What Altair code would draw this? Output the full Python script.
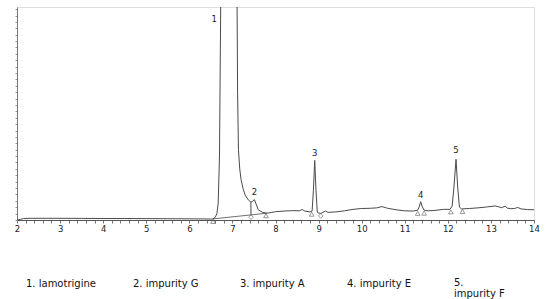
import altair as alt
import pandas as pd

# retention time (min) and detector response (arbitrary units, 0-100 = full scale)
trace_rt = [2.0, 2.08, 2.15, 2.3, 2.6, 3.0, 3.5, 4.0, 4.5, 5.0, 5.5, 6.0, 6.3, 6.5,
            6.55, 6.6, 6.64, 6.67, 6.7, 6.72, 6.74, 6.8, 7.0, 7.1, 7.12, 7.14, 7.17,
            7.2, 7.25, 7.3, 7.37, 7.43, 7.47, 7.51, 7.55, 7.6, 7.7, 7.8, 7.9, 8.0,
            8.2, 8.4, 8.55, 8.62, 8.68, 8.8, 8.85, 8.88, 8.91, 8.94, 8.97, 9.0, 9.05,
            9.1, 9.16, 9.22, 9.4, 9.6, 9.8, 10.0, 10.2, 10.35, 10.47, 10.6, 10.8,
            11.0, 11.2, 11.3, 11.34, 11.37, 11.4, 11.45, 11.55, 11.7, 11.9, 12.05,
            12.1, 12.14, 12.19, 12.23, 12.27, 12.32, 12.5, 12.7, 12.9, 13.1, 13.25,
            13.33, 13.38, 13.45, 13.55, 13.62, 13.7, 13.85, 14.0]
trace_signal = [0.0, 0.3, 0.7, 0.8, 0.8, 0.8, 0.75, 0.7, 0.7, 0.65, 0.6, 0.55, 0.5, 0.45,
                0.5, 1.2, 3.0, 8.0, 30.0, 80.0, 130.0, 250.0, 250.0, 130.0, 60.0, 33.0, 24.0,
                19.0, 14.5, 11.5, 9.4, 8.4, 8.8, 9.6, 7.5, 4.8, 3.6, 3.2, 3.5, 3.9,
                4.2, 4.4, 4.3, 4.9, 4.2, 3.8, 4.2, 14.0, 28.0, 14.0, 3.6, 3.3, 3.1,
                3.6, 4.2, 3.6, 3.8, 4.3, 5.0, 5.4, 5.5, 5.7, 6.3, 5.5, 4.8,
                4.3, 4.2, 4.6, 6.5, 8.6, 6.5, 4.6, 4.3, 4.5, 5.0, 5.0,
                6.5, 15.0, 28.5, 15.0, 6.0, 5.2, 5.4, 5.7, 6.1, 6.6, 5.8,
                6.5, 5.6, 5.3, 5.4, 5.9, 5.2, 4.9, 4.8]

# integration baseline under peaks 1/2 and the drop line between them
base_rt = [6.55, 7.8]
base_signal = [0.5, 3.2]
drop_rt = [7.43]
drop_top = [8.4]
drop_bottom = [2.5]

# integration event marks
event_rt = [6.55, 7.43, 7.78, 8.84, 9.05, 11.3, 11.45, 12.07, 12.34]
event_signal = [0.5, 2.5, 3.2, 3.9, 3.1, 4.3, 4.4, 5.0, 5.2]
event_kind = ["limit", "drop", "limit", "limit", "drop", "limit", "limit", "limit", "limit"]

# peak numbers
peak_label = ["1", "2", "3", "4", "5"]
peak_label_rt = [6.58, 7.51, 8.91, 11.37, 12.19]
peak_label_signal = [94.5, 13.2, 31.5, 11.8, 32.8]

# legend lines
legend_items = ["1. lamotrigine", "2. impurity G", "3. impurity A", "4. impurity E", "5.\nimpurity F"]

FONT = "DejaVu Sans"
INK = "#4a4a4a"

trace = pd.DataFrame({"rt": trace_rt, "signal": trace_signal})
base = pd.DataFrame({"rt": base_rt, "signal": base_signal})
drop = pd.DataFrame({"rt": drop_rt, "signal": drop_top, "bottom": drop_bottom})
events = pd.DataFrame({"rt": event_rt, "signal": event_signal, "kind": event_kind})
labels = pd.DataFrame({"rt": peak_label_rt, "signal": peak_label_signal, "label": peak_label})

xs = alt.Scale(domain=[2, 14], nice=False, zero=False)
ys = alt.Scale(domain=[0, 100], nice=False)

x_ticks = [round(2 + 0.2 * i, 1) for i in range(61)]
y_ticks = [3 * i for i in range(34)]

x_axis = alt.Axis(
    values=x_ticks,
    labelExpr="abs(datum.value - round(datum.value)) < 0.01 ? format(datum.value, 'd') : ''",
    labelFlush=False, labelOverlap=False, labelFont=FONT, labelFontSize=8.5,
    labelColor="#222", labelPadding=1, tickSize=3, tickColor="#777",
    domainColor="#555", grid=False, title=None,
)
y_axis = alt.Axis(values=y_ticks, labels=False, tickSize=2, tickColor="#999",
                  domainColor="#777", grid=False, title=None)

X = alt.X("rt:Q", scale=xs, axis=x_axis)
Y = alt.Y("signal:Q", scale=ys, axis=y_axis)

line = alt.Chart(trace).mark_line(clip=True, color=INK, strokeWidth=1).encode(x=X, y=Y)

baseline = alt.Chart(base).mark_line(color=INK, strokeWidth=0.8).encode(x=X, y=Y)

drops = alt.Chart(drop).mark_rule(color=INK, strokeWidth=1).encode(x=X, y=Y, y2="bottom:Q")

marks = alt.Chart(events).mark_point(filled=False, size=22, strokeWidth=0.8,
                                     color=INK, yOffset=2.5).encode(
    x=X, y=Y,
    shape=alt.Shape("kind:N", scale=alt.Scale(domain=["limit", "drop"],
                                               range=["triangle-up", "diamond"]), legend=None),
)

peak_text = alt.Chart(labels).mark_text(font=FONT, fontSize=8.5, color="#222").encode(
    x=X, y=Y, text="label:N"
)

layers = [line, baseline, drops, marks, peak_text]
for i, item in enumerate(legend_items):
    layers.append(
        alt.Chart(pd.DataFrame({"t": [item]})).mark_text(
            font=FONT, fontSize=10, color="#111", align="left", baseline="middle",
            lineBreak="\n", lineHeight=11,
        ).encode(text="t:N", x=alt.value(9 + 107 * i), y=alt.value(277 if i < 4 else 276))
    )

chart = alt.layer(*layers).properties(
    width=517, height=213,
    autosize=alt.AutoSizeParams(type="none"),
    padding={"left": 17, "top": 7, "right": 20, "bottom": 79},
).configure_view(stroke="#aaa", strokeWidth=1).configure(background="white")

chart.save("out.html", embed_options={"renderer": "svg", "actions": False})
